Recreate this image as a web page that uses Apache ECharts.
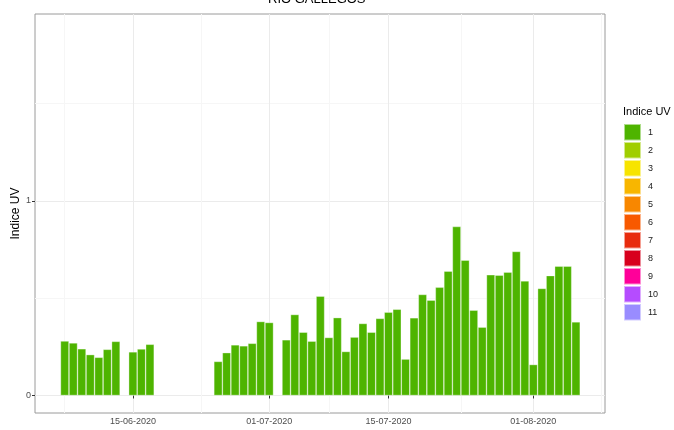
<!DOCTYPE html>
<html>
<head>
<meta charset="utf-8">
<script src="https://cdn.jsdelivr.net/npm/echarts@6.0.0/dist/echarts.min.js"></script>
<style>
  html, body { margin: 0; padding: 0; background: #fff; }
  #chart { width: 674px; height: 430px; }
</style>
</head>
<body>
<div id="chart"></div>
<script>
// daily UV index, Rio Gallegos (missing days are left out)
const dates = [
  '2020-06-07', '2020-06-08', '2020-06-09', '2020-06-10', '2020-06-11', '2020-06-12', '2020-06-13',
  '2020-06-15', '2020-06-16', '2020-06-17',
  '2020-06-25', '2020-06-26', '2020-06-27', '2020-06-28', '2020-06-29', '2020-06-30', '2020-07-01',
  '2020-07-03', '2020-07-04', '2020-07-05', '2020-07-06', '2020-07-07', '2020-07-08', '2020-07-09',
  '2020-07-10', '2020-07-11', '2020-07-12', '2020-07-13', '2020-07-14', '2020-07-15', '2020-07-16',
  '2020-07-17', '2020-07-18', '2020-07-19', '2020-07-20', '2020-07-21', '2020-07-22', '2020-07-23',
  '2020-07-24', '2020-07-25', '2020-07-26', '2020-07-27', '2020-07-28', '2020-07-29', '2020-07-30',
  '2020-07-31', '2020-08-01', '2020-08-02', '2020-08-03', '2020-08-04', '2020-08-05', '2020-08-06'
]
const uvValues = [
  0.28, 0.27, 0.24, 0.21, 0.196, 0.237, 0.278,
  0.224, 0.239, 0.263,
  0.175, 0.22, 0.26, 0.255, 0.268, 0.38, 0.375,
  0.286, 0.416, 0.325, 0.279, 0.51, 0.298, 0.40,
  0.226, 0.30, 0.37, 0.325, 0.396, 0.428, 0.443,
  0.187, 0.399, 0.519, 0.49, 0.556, 0.639, 0.868,
  0.695, 0.438, 0.351, 0.62, 0.618, 0.634, 0.74,
  0.589, 0.159, 0.55, 0.616, 0.664, 0.664, 0.378
]
const uvLevels = ['1', '2', '3', '4', '5', '6', '7', '8', '9', '10', '11']
const uvColors = [
  '#4eb400', '#a0ce00', '#f7e400', '#f8b600', '#f88700', '#f85900',
  '#e82c0e', '#d8001d', '#ff0099', '#b54cff', '#998cff'
]
const xMajorTicks = ['2020-06-15', '2020-07-01', '2020-07-15', '2020-08-01']
const xMinorTicks = ['2020-06-07', '2020-06-23', '2020-07-08', '2020-07-23T12:00:00', '2020-08-09']
const yMajorTicks = [0, 1]
const yMinorTicks = [0.5, 1.5]

const toTime = s => +new Date(s.length > 10 ? s : s + 'T00:00:00')
const xMin = toTime('2020-06-03T12:15:00')
const xMax = toTime('2020-08-09T09:50:00')
const yMin = -0.09
const yMax = 1.96

const pad = n => (n < 10 ? '0' + n : '' + n)
const fmtDate = v => {
  const d = new Date(v)
  return pad(d.getDate()) + '-' + pad(d.getMonth() + 1) + '-' + d.getFullYear()
}

const chart = echarts.init(document.getElementById('chart'))

const series = uvLevels.map((lvl, i) => ({
  name: lvl,
  type: 'bar',
  xAxisIndex: i === 0 ? 0 : 1,
  yAxisIndex: i === 0 ? 0 : 1,
  barWidth: 8.5,
  data: i === 0 ? dates.map((d, k) => [toTime(d), uvValues[k]]) : [],
  itemStyle: {
    color: uvColors[i],
    borderColor: 'rgba(255,255,255,0.55)',
    borderWidth: 0.6
  }
}))

const option = {
  animation: false,
  textStyle: { fontFamily: 'Liberation Sans, Arial, sans-serif' },
  title: [
    {
      text: 'RIO GALLEGOS',
      left: 268,
      top: -7,
      padding: 0,
      textStyle: { fontSize: 13, fontWeight: 'normal', color: '#000' }
    },
    {
      text: 'Indice UV',
      left: 623,
      top: 106,
      padding: 0,
      textStyle: { fontSize: 11, fontWeight: 'normal', color: '#000' }
    }
  ],
  legend: {
    orient: 'vertical',
    left: 623,
    top: 123,
    padding: 0,
    itemWidth: 17,
    itemHeight: 16.5,
    itemGap: -0.5,
    icon: 'rect',
    data: uvLevels,
    textStyle: { fontSize: 9, color: '#1a1a1a', padding: [0, 0, 0, 2] }
  },
  grid: {
    left: 35,
    right: 69,
    top: 14,
    bottom: 17,
    outerBoundsMode: 'none',
    containLabel: false,
    show: true,
    borderColor: '#9a9a9a',
    borderWidth: 1,
    backgroundColor: '#fff'
  },
  xAxis: [
    {
      type: 'value',
      min: xMin,
      max: xMax,
      axisLine: { show: false },
      axisTick: {
        show: true,
        length: 3,
        lineStyle: { color: '#333' },
        customValues: xMajorTicks.map(toTime)
      },
      axisLabel: {
        customValues: xMajorTicks.map(toTime),
        formatter: fmtDate,
        fontSize: 9,
        color: '#4d4d4d',
        margin: 4,
        hideOverlap: false
      },
      splitLine: { show: true, lineStyle: { color: '#ebebeb', width: 1 } }
    },
    {
      type: 'value',
      min: xMin,
      max: xMax,
      position: 'bottom',
      axisLine: { show: false },
      axisTick: { show: false, customValues: xMinorTicks.map(toTime) },
      axisLabel: { show: false, customValues: xMinorTicks.map(toTime) },
      splitLine: { show: true, lineStyle: { color: '#f6f6f6', width: 1 } }
    }
  ],
  yAxis: [
    {
      type: 'value',
      min: yMin,
      max: yMax,
      name: 'Indice UV',
      nameLocation: 'middle',
      nameGap: 13,
      nameMoveOverlap: false,
      nameTextStyle: { fontSize: 12, color: '#000' },
      axisLine: { show: false },
      axisTick: {
        show: true,
        length: 3,
        lineStyle: { color: '#333' },
        customValues: yMajorTicks
      },
      axisLabel: {
        customValues: yMajorTicks,
        fontSize: 9,
        color: '#4d4d4d',
        margin: 4
      },
      splitLine: { show: true, lineStyle: { color: '#ebebeb', width: 1 } }
    },
    {
      type: 'value',
      min: yMin,
      max: yMax,
      position: 'left',
      axisLine: { show: false },
      axisTick: { show: false, customValues: yMinorTicks },
      axisLabel: { show: false, customValues: yMinorTicks },
      splitLine: { show: true, lineStyle: { color: '#f6f6f6', width: 1 } }
    }
  ],
  series: series
}

chart.setOption(option)
</script>
</body>
</html>
